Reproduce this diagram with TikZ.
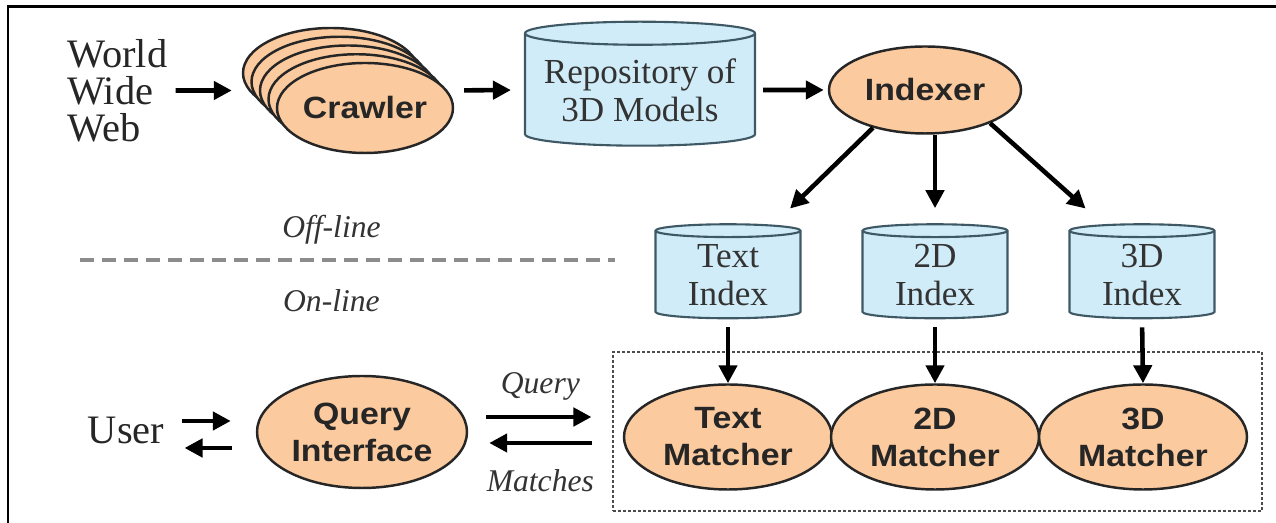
\documentclass[tikz,border=0pt]{standalone}
\usepackage{fontspec}
\setmainfont{Liberation Serif}
\newfontfamily\nodefont{Liberation Sans}[FakeStretch=1.1]
\usetikzlibrary{positioning, arrows.meta, shapes.geometric, fit}

\definecolor{peach}{HTML}{FBCA9E}
\definecolor{paleblue}{HTML}{D0ECF8}
\definecolor{cylline}{HTML}{3E5864}

\tikzset{
  agent/.style={ellipse, draw=black!85, line width=1.4pt, fill=peach, inner sep=0pt,
    align=center, text=black!85, font=\nodefont\bfseries\fontsize{17.5}{21}\selectfont},
  store/.style={cylinder, shape border rotate=90, draw=cylline, line width=1.2pt,
    fill=paleblue, inner sep=0pt, align=center, text=black!80,
    font=\fontsize{20}{21.5}\selectfont},
  flow/.style={-{Triangle[length=0.36cm,width=0.36cm]}, line width=2.6pt},
  tag/.style={inner sep=0pt, text=black!80, font=\itshape\fontsize{18}{20}\selectfont},
  plain/.style={align=left, inner sep=0pt, text=black!85, font=\fontsize{23}{21}\selectfont},
  divider/.style={draw=black!45, line width=2.3pt, dash pattern=on 0.28cm off 0.16cm},
  groupbox/.style={draw=black!70, line width=0.6pt, dash pattern=on 0.06cm off 0.04cm,
    inner sep=0pt},
}

\begin{document}
\begin{tikzpicture}
  \useasboundingbox (0,0) rectangle (25.52,10.46);
  % frame
  \draw[line width=1.7pt] (0.16,0) -- (0.16,10.32) -- (25.52,10.32);

  % off-line part
  \coordinate (crawlerpos) at (7.30,8.30);
  \foreach \k in {4,3,2,1}
    \node[agent, minimum width=3.52cm, minimum height=1.80cm] (crawler\k)
      at ([shift={({-0.17*\k},{0.175*\k})}]crawlerpos) {};
  \node[agent, minimum width=3.52cm, minimum height=1.80cm] (crawler) at (crawlerpos) {Crawler};

  \node[plain, anchor=west] (www) at (1.34,8.65) {World\\Wide\\Web};
  \node[store, minimum width=4.6cm, minimum height=2.48cm, aspect=0.12] (repo)
    at (12.80,8.66) {Repository of\\3D Models};
  \node[agent, minimum width=3.84cm, minimum height=1.74cm] (indexer) at (18.50,8.66) {Indexer};

  \draw[flow, shorten <=0.16cm, shorten >=0.54cm] (www.east) -- (crawler2.west);
  \draw[flow, shorten <=0.54cm, shorten >=0.26cm] (crawler2.east) -- (repo.west);
  \draw[flow, shorten <=0.14cm, shorten >=0.08cm] (repo.east) -- (indexer.west);

  \node[store, minimum width=2.9cm, minimum height=1.88cm, aspect=0.16] (textidx)
    at (14.56,4.96) {Text\\Index};
  \node[store, minimum width=2.9cm, minimum height=1.88cm, aspect=0.16] (twodidx)
    at (18.70,4.96) {2D\\Index};
  \node[store, minimum width=2.9cm, minimum height=1.88cm, aspect=0.16] (threedidx)
    at (22.84,4.96) {3D\\Index};

  \draw[flow, shorten >=0.42cm] (indexer.216) -- ([xshift=0.94cm]textidx.north);
  \draw[flow, shorten >=0.30cm] (indexer.south -| twodidx.north) -- (twodidx.north);
  \draw[flow, shorten >=0.44cm] (indexer.333) -- ([xshift=-0.80cm]threedidx.north);

  \draw[divider] (1.60,5.26) -- node[tag, above=0.28cm, pos=0.47] {Off-line}
    node[tag, below=0.56cm, pos=0.47] {On-line} (12.30,5.26);

  % on-line part
  \coordinate (boxsw) at (12.26,0.24);
  \coordinate (boxne) at (25.24,3.42);
  \node[groupbox, fit=(boxsw)(boxne)] (matchbox) {};

  \node[agent, minimum width=4.16cm, minimum height=2.10cm] (textmatch)
    at (14.56,1.72) {Text\\Matcher};
  \node[agent, minimum width=4.16cm, minimum height=2.10cm] (twodmatch)
    at (18.70,1.72) {2D\\Matcher};
  \node[agent, minimum width=4.16cm, minimum height=2.10cm] (threedmatch)
    at (22.86,1.72) {3D\\Matcher};

  \draw[flow, shorten <=0.16cm] (textidx.south) -- (textmatch.north);
  \draw[flow, shorten <=0.16cm] (twodidx.south) -- (twodmatch.north);
  \draw[flow, shorten <=0.16cm] (threedidx.south) -- (threedmatch.north);

  \node[agent, minimum width=4.2cm, minimum height=2.24cm] (query) at (7.24,1.82) {Query\\Interface};
  \node[plain] (user) at (2.52,1.86) {User};

  \draw[flow, shorten <=0.34cm, shorten >=0.50cm]
    ([yshift=0.18cm]user.east) -- ([yshift=0.18cm]user.east -| query.west);
  \draw[flow, shorten <=0.48cm, shorten >=0.40cm]
    ([yshift=-0.36cm]user.east -| query.west) -- ([yshift=-0.36cm]user.east);

  \draw[flow, shorten <=0.36cm, shorten >=0.42cm]
    ([yshift=0.30cm]query.east) -- node[tag, above=0.28cm] {Query}
    ([yshift=0.30cm]query.east -| matchbox.west);
  \draw[flow, shorten <=0.40cm, shorten >=0.42cm]
    ([yshift=-0.22cm]query.east -| matchbox.west) -- node[tag, below=0.48cm] {Matches}
    ([yshift=-0.22cm]query.east);
\end{tikzpicture}
\end{document}
